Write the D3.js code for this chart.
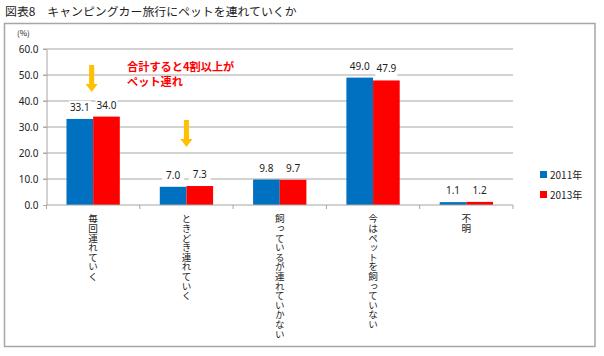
<!DOCTYPE html>
<html><head><meta charset="utf-8">
<script src="https://cdn.jsdelivr.net/npm/d3@7"></script>
<style>
body{margin:0;background:#fff;}
text{font-family:"Noto Sans CJK JP","Noto Sans",sans-serif;}
</style></head>
<body><svg id="c" width="604" height="356"></svg>
<script>
const categories = ["毎回連れていく","ときどき連れていく","飼っているが連れていかない","今はペットを飼っていない","不明"];
const series = ["2011年","2013年"];
const values2011 = [33.1, 7.0, 9.8, 49.0, 1.1];
const values2013 = [34.0, 7.3, 9.7, 47.9, 1.2];
const yTicks = [0,10,20,30,40,50,60];
const colors = ["#0070C0","#FF0000"];
const title = "図表8　キャンピングカー旅行にペットを連れていくか";
const noteLines = ["合計すると4割以上が","ペット連れ"];
// arrows: category index, top value, tip value
const arrows = [{cat:0, top:53.8, tip:43.5, dx:-1.5},{cat:1, top:32.7, tip:22.3, dx:0}];

const svg = d3.select("#c");
svg.append("rect").attr("x",4.5).attr("y",23.5).attr("width",590.5).attr("height",323)
  .attr("fill","none").attr("stroke","#a6a6a6").attr("stroke-width",1.5);
svg.append("text").attr("x",5).attr("y",16).attr("font-size",11.9).attr("fill","#222").text(title);

const x0 = d3.scaleBand().domain(categories).range([46.5,513]).paddingInner(0).paddingOuter(0);
const x1 = d3.scaleBand().domain(series).range([0,x0.bandwidth()]).paddingInner(0).paddingOuter(0.75);
const y = d3.scaleLinear().domain([0,60]).range([205,49]);

// gridlines
svg.append("g").selectAll("line").data(yTicks.slice(1)).join("line")
  .attr("x1",43).attr("x2",513).attr("y1",d=>y(d)).attr("y2",d=>y(d))
  .attr("stroke","#a6a6a6").attr("stroke-width",1);

// y axis
const ya = svg.append("g").attr("transform","translate(46.5,0)")
  .call(d3.axisLeft(y).tickValues(yTicks).tickFormat(d3.format(".1f")).tickSize(3).tickPadding(5));
ya.select(".domain").attr("stroke","#a6a6a6");
ya.selectAll(".tick line").attr("stroke","#a6a6a6");
ya.selectAll("text").attr("font-size",10).attr("fill","#222").style("font-family","'Noto Sans','DejaVu Sans',sans-serif");
svg.append("text").attr("x",17).attr("y",36).attr("font-size",8).attr("fill","#222").text("(%)");

// bars
const data = categories.map((c,i)=>({c, vals:[values2011[i],values2013[i]]}));
const g = svg.append("g").selectAll("g").data(data).join("g").attr("transform",d=>`translate(${x0(d.c)},0)`);
g.selectAll("rect").data(d=>d.vals.map((v,j)=>({s:series[j],v,j}))).join("rect")
  .attr("x",d=>x1(d.s)).attr("width",x1.bandwidth())
  .attr("y",d=>y(d.v)).attr("height",d=>y(0)-y(d.v)).attr("fill",d=>colors[d.j]);

// x axis
const xa = svg.append("g").attr("transform","translate(0,205)");
xa.append("line").attr("x1",46.5).attr("x2",513).attr("stroke","#a6a6a6").attr("stroke-width",1.2);
xa.selectAll("line.t").data(d3.range(categories.length+1)).join("line").attr("class","t")
  .attr("x1",i=>46.5+i*x0.bandwidth()).attr("x2",i=>46.5+i*x0.bandwidth()).attr("y1",0).attr("y2",4)
  .attr("stroke","#a6a6a6");

// data labels
const lbl = g.selectAll("g.l").data(d=>d.vals.map((v,j)=>({s:series[j],v,j}))).join("g").attr("class","l");
lbl.append("rect").attr("x",d=>x1(d.s)+x1.bandwidth()/2-11).attr("y",d=>y(d.v)-18).attr("width",22).attr("height",14).attr("fill","#fff");
lbl.append("text").attr("x",d=>x1(d.s)+x1.bandwidth()/2).attr("y",d=>y(d.v)-8)
  .attr("text-anchor","middle").attr("font-size",10).attr("fill","#222")
  .style("font-family","'Noto Sans','DejaVu Sans',sans-serif")
  .text(d=>d3.format(".1f")(d.v));

// category labels vertical
svg.append("g").selectAll("text").data(categories).join("text")
  .attr("x",d=>x0(d)+x0.bandwidth()/2).attr("y",214)
  .attr("font-size",9.6).attr("fill","#222")
  .style("writing-mode","vertical-rl").style("text-orientation","upright")
  .text(d=>d);

// legend
const lg = svg.append("g").selectAll("g").data(series).join("g").attr("transform",(d,i)=>`translate(540,${171+i*20})`);
lg.append("rect").attr("width",7).attr("height",7).attr("fill",(d,i)=>colors[i]);
lg.append("text").attr("x",10).attr("y",7.5).attr("font-size",10).attr("fill","#222").text(d=>d);

// arrows
arrows.forEach(a=>{
  const cx = x0(categories[a.cat])+x0.bandwidth()/2 + a.dx;
  const yt = y(a.top), yp = y(a.tip), yh = yp-8;
  const p = d3.path();
  p.moveTo(cx-2.5,yt); p.lineTo(cx+2.5,yt); p.lineTo(cx+2.5,yh); p.lineTo(cx+6,yh);
  p.lineTo(cx,yp); p.lineTo(cx-6,yh); p.lineTo(cx-2.5,yh); p.closePath();
  svg.append("path").attr("d",p.toString()).attr("fill","#FFC000");
});

// note
svg.append("text").attr("font-size",11.2).attr("font-weight","bold").attr("fill","#FF0000")
  .selectAll("tspan").data(noteLines).join("tspan")
  .attr("x",127).attr("y",(d,i)=>71+i*15).text(d=>d);
</script></body></html>
